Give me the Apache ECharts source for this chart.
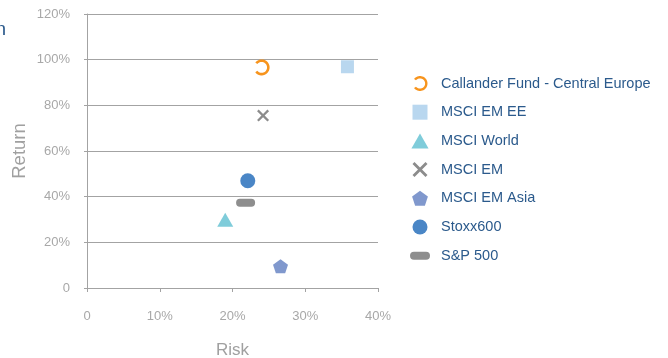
<!DOCTYPE html>
<html>
<head>
    <meta charset="utf-8">
    <title>Risk / Return</title>
    <script src="https://cdn.jsdelivr.net/npm/echarts@6/dist/echarts.min.js"></script>
    <style>
        html, body { margin: 0; padding: 0; background: #fff; }
        #chart { width: 668px; height: 358px; }
    </style>
</head>
<body>
    <div id="chart"></div>
    <script>
        // data
        var names = ['Callander Fund - Central Europe', 'MSCI EM EE', 'MSCI World', 'MSCI EM', 'MSCI EM Asia', 'Stoxx600', 'S&P 500'];
        var risk = [24.0, 35.8, 19.0, 24.2, 26.6, 22.1, 21.8];
        var ret = [96.6, 96.9, 29.9, 75.5, 9.5, 47.0, 37.3];
        var xTicks = [0, 10, 20, 30, 40];
        var yTicks = [0, 20, 40, 60, 80, 100, 120];

        // open ring (gap on the left), built as a filled annulus outline
        function ringPath(ro, ri, gapDeg) {
            var pts = [], a, i, steps = 36;
            var a0 = 180 + gapDeg, a1 = 540 - gapDeg;
            for (i = 0; i <= steps; i++) {
                a = (a0 + (a1 - a0) * i / steps) * Math.PI / 180;
                pts.push((10 + ro * Math.cos(a)).toFixed(2) + ',' + (10 + ro * Math.sin(a)).toFixed(2));
            }
            for (i = steps; i >= 0; i--) {
                a = (a0 + (a1 - a0) * i / steps) * Math.PI / 180;
                pts.push((10 + ri * Math.cos(a)).toFixed(2) + ',' + (10 + ri * Math.sin(a)).toFixed(2));
            }
            return 'path://M0,0 M20,20 M' + pts.join(' L') + ' Z';
        }

        var colors = ['#f7941d', '#b9d7ef', '#7fccda', '#8c8c8c', '#8098cd', '#4a86c6', '#8e8e8e'];
        var symbols = [
            ringPath(10, 6.8, 38),
            'path://M0,0 L13,0 L13,13 L0,13 Z',
            'path://M8,0 L16,14 L0,14 Z',
            'path://M0,1.6 L1.6,0 L6,4.4 L10.4,0 L12,1.6 L7.6,6 L12,10.4 L10.4,12 L6,7.6 L1.6,12 L0,10.4 L4.4,6 Z',
            'path://M10,0 L20,7.3 L16.2,19 L3.8,19 L0,7.3 Z',
            'circle',
            'path://M4,0 L16,0 A4,4 0 0 1 16,8 L4,8 A4,4 0 0 1 4,0 Z'
        ];
        var sizes = [16, 13, [16, 14], 12, [15, 14], 15, [19, 8]];

        var pct = function (v) { return v === 0 ? '0' : v + '%'; };

        var series = names.map(function (n, i) {
            return {
                name: n,
                type: 'scatter',
                symbol: symbols[i],
                symbolSize: sizes[i],
                itemStyle: { color: colors[i], opacity: 1 },
                data: [[risk[i], ret[i]]]
            };
        });

        var chart = echarts.init(document.getElementById('chart'));
        chart.setOption({
            animation: false,
            textStyle: { fontFamily: 'Liberation Sans, Arial, sans-serif' },
            graphic: [{
                type: 'text',
                right: 662,
                top: 20,
                style: { text: 'Return', fill: '#2b5a8c', font: '19px Liberation Sans' }
            }],
            grid: { left: 87, right: 290, top: 14, bottom: 70, outerBoundsMode: 'none' },
            legend: {
                orient: 'vertical',
                left: 405,
                top: 71,
                itemWidth: 20,
                itemHeight: 15,
                itemGap: 13.7,
                data: names,
                textStyle: { color: '#2b5a8c', fontSize: 14.5, padding: [0, 0, 0, 6] }
            },
            xAxis: {
                type: 'value',
                min: 0, max: 40, interval: 10,
                name: 'Risk',
                nameLocation: 'middle',
                nameGap: 54,
                nameTextStyle: { color: '#a0a0a0', fontSize: 17 },
                axisLine: { show: true, lineStyle: { color: '#a3a3a3' } },
                axisTick: { show: true, length: 4, lineStyle: { color: '#a3a3a3' } },
                axisLabel: { color: '#a8a8a8', fontSize: 13, margin: 22, formatter: pct },
                splitLine: { show: false }
            },
            yAxis: {
                type: 'value',
                min: 0, max: 120, interval: 20,
                name: 'Return',
                nameLocation: 'middle',
                nameGap: 58,
                nameTextStyle: { color: '#a0a0a0', fontSize: 18.5 },
                axisLine: { show: true, lineStyle: { color: '#a3a3a3' } },
                axisTick: { show: true, length: 3, lineStyle: { color: '#a3a3a3' } },
                axisLabel: { color: '#a8a8a8', fontSize: 13, margin: 17, formatter: pct },
                splitLine: { show: true, lineStyle: { color: '#a3a3a3', width: 1 } }
            },
            series: series
        });
    </script>
</body>
</html>
